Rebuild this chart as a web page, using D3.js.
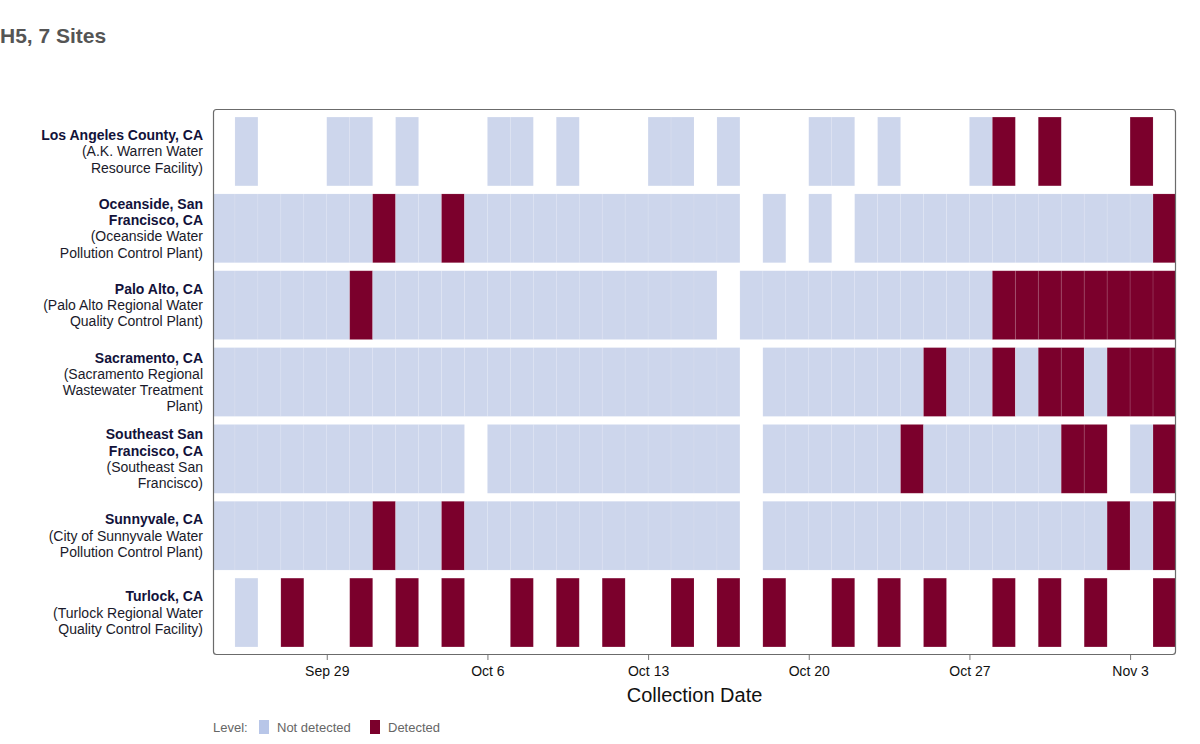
<!DOCTYPE html>
<html>
<head>
<meta charset="utf-8">
<script src="https://cdn.jsdelivr.net/npm/d3@7/dist/d3.min.js"></script>
<style>
  html, body { margin: 0; padding: 0; background: #fff; }
  svg { display: block; font-family: "Liberation Sans", Arial, Helvetica, sans-serif; }
</style>
</head>
<body>
<svg id="chart" width="1200" height="744"></svg>
<script>
// ---- Data ----
const startDate = "2024-09-24";   // first collection day shown
const endDate = "2024-11-05";     // end of last day shown
const siteNames = [
  "Los Angeles County, CA",
  "Oceanside, San Francisco, CA",
  "Palo Alto, CA",
  "Sacramento, CA",
  "Southeast San Francisco, CA",
  "Sunnyvale, CA",
  "Turlock, CA"
];
const siteNameLines = [
  ["Los Angeles County, CA"],
  ["Oceanside, San", "Francisco, CA"],
  ["Palo Alto, CA"],
  ["Sacramento, CA"],
  ["Southeast San", "Francisco, CA"],
  ["Sunnyvale, CA"],
  ["Turlock, CA"]
];
const facilityLines = [
  ["(A.K. Warren Water", "Resource Facility)"],
  ["(Oceanside Water", "Pollution Control Plant)"],
  ["(Palo Alto Regional Water", "Quality Control Plant)"],
  ["(Sacramento Regional", "Wastewater Treatment", "Plant)"],
  ["(Southeast San", "Francisco)"],
  ["(City of Sunnyvale Water", "Pollution Control Plant)"],
  ["(Turlock Regional Water", "Quality Control Facility)"]
];
// One character per day from Sep 24 to Nov 4: N = not detected, D = detected, _ = no sample
const losAngeles   = "_N___NN_N_" + "__NN_N___N" + "N_N___NN_N" + "___ND_D___" + "D_";
const oceanside    = "NNNNNNNDNN" + "DNNNNNNNNN" + "NNN_N_N_NN" + "NNNNNNNNNN" + "ND";
const paloAlto     = "NNNNNNDNNN" + "NNNNNNNNNN" + "NN_NNNNNNN" + "NNNNDDDDDD" + "DD";
const sacramento   = "NNNNNNNNNN" + "NNNNNNNNNN" + "NNN_NNNNNN" + "NDNNDNDDND" + "DD";
const southeastSF  = "NNNNNNNNNN" + "N_NNNNNNNN" + "NNN_NNNNNN" + "DNNNNNNDD_" + "ND";
const sunnyvale    = "NNNNNNNDNN" + "DNNNNNNNNN" + "NNN_NNNNNN" + "NNNNNNNNND" + "ND";
const turlock      = "_N_D__D_D_" + "D__D_D_D__" + "D_D_D__D_D" + "_D__D_D_D_" + "_D";
const siteSeries = [losAngeles, oceanside, paloAlto, sacramento, southeastSF, sunnyvale, turlock];
const tickDates = ["2024-09-29", "2024-10-06", "2024-10-13", "2024-10-20", "2024-10-27", "2024-11-03"];
const levels = ["Not detected", "Detected"];
const levelCodes = ["N", "D"];
const levelColors = ["#cdd6ec", "#7b002c"];
const legendColors = ["#b8c6e8", "#7b002c"];

// ---- Build records ----
const parse = d3.timeParse("%Y-%m-%d");
const t0 = parse(startDate), t1 = parse(endDate);
const records = [];
siteSeries.forEach((s, i) => {
  s.split("").forEach((c, k) => {
    const idx = levelCodes.indexOf(c);
    if (idx >= 0) {
      const day = d3.timeDay.offset(t0, k);
      records.push({ site: siteNames[i], day: day, level: levels[idx] });
    }
  });
});

// ---- Layout ----
const svg = d3.select("#chart");
const L = 213, R = 1176, T = 109, B = 655;

const x = d3.scaleTime().domain([t0, t1]).range([212, 1176]);
const y = d3.scaleBand().domain(siteNames).range([T, B]).paddingInner(0.105).paddingOuter(0.105);
const color = d3.scaleOrdinal().domain(levels).range(levelColors);

// Title
svg.append("text").attr("x", 0).attr("y", 43)
  .attr("font-size", 21).attr("font-weight", "bold").attr("fill", "#555")
  .text("H5, 7 Sites");

// Clip
svg.append("clipPath").attr("id", "plotclip")
  .append("rect").attr("x", L).attr("y", T).attr("width", R - L).attr("height", B - T);

const g = svg.append("g").attr("clip-path", "url(#plotclip)");
g.selectAll("rect.cell").data(records).join("rect")
  .attr("class", "cell")
  .attr("x", d => x(d.day))
  .attr("width", d => x(d3.timeDay.offset(d.day, 1)) - x(d.day))
  .attr("y", d => y(d.site))
  .attr("height", y.bandwidth())
  .attr("fill", d => color(d.level))
  .attr("stroke", "#ffffff")
  .attr("stroke-opacity", 0.12)
  .attr("stroke-width", 0.8);

// Frame
svg.append("rect").attr("x", L + 0.5).attr("y", T + 0.5)
  .attr("width", R - L - 1).attr("height", B - T - 1)
  .attr("rx", 3).attr("ry", 3)
  .attr("fill", "none").attr("stroke", "#6b6b6b").attr("stroke-width", 1.2);

// X axis
const xAxis = d3.axisBottom(x)
  .tickValues(tickDates.map(parse))
  .tickFormat(d3.timeFormat("%b %-d"))
  .tickSize(5).tickSizeOuter(0);
const ax = svg.append("g").attr("transform", `translate(0,${B})`).call(xAxis);
ax.select(".domain").remove();
ax.selectAll(".tick line").attr("stroke", "#777");
ax.selectAll(".tick text").attr("font-size", 14).attr("fill", "#111")
  .attr("font-family", "Liberation Sans, Arial, sans-serif").attr("dy", "0.95em");

svg.append("text").attr("x", (L + R) / 2).attr("y", 702)
  .attr("text-anchor", "middle").attr("font-size", 20).attr("fill", "#111")
  .text("Collection Date");

// Y labels
const lineH = 16.3;
siteNames.forEach((s, i) => {
  const lines = siteNameLines[i].map(t => ({ t, bold: true }))
    .concat(facilityLines[i].map(t => ({ t, bold: false })));
  const cy = y(s) + y.bandwidth() / 2;
  const top = cy - (lines.length - 1) * lineH / 2;
  const txt = svg.append("text").attr("text-anchor", "end").attr("font-size", 14).attr("fill", "#16163a");
  lines.forEach((ln, j) => {
    txt.append("tspan").attr("x", 203).attr("y", top + j * lineH + 5)
      .attr("font-weight", ln.bold ? "bold" : "normal")
      .attr("fill", ln.bold ? "#12123a" : "#1a1a2a")
      .text(ln.t);
  });
});

// Legend
const lg = svg.append("g");
lg.append("text").attr("x", 213).attr("y", 732).attr("font-size", 13).attr("fill", "#666").text("Level:");
const legendX = [259, 370];
const legendTextX = [277, 388];
levels.forEach((lv, i) => {
  lg.append("rect").attr("x", legendX[i]).attr("y", 720).attr("width", 10).attr("height", 14)
    .attr("fill", legendColors[i]);
  lg.append("text").attr("x", legendTextX[i]).attr("y", 732).attr("font-size", 13).attr("fill", "#666").text(lv);
});
</script>
</body>
</html>
